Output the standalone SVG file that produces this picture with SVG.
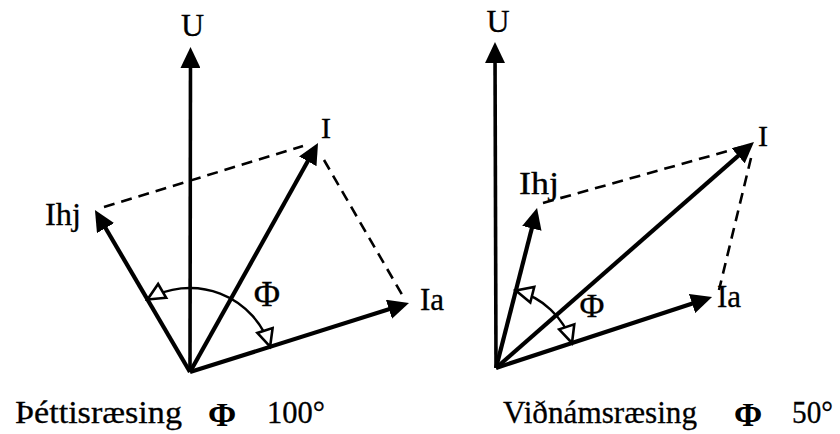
<svg xmlns="http://www.w3.org/2000/svg" width="840" height="434" viewBox="0 0 840 434">
<style>
.vec{stroke:#000;stroke-width:4.2;fill:none;stroke-linecap:butt}
.u{stroke:#000;stroke-width:3.6;fill:none}
.dash{stroke:#000;stroke-width:2.6;fill:none;stroke-dasharray:11 7}
.arc{stroke:#000;stroke-width:2.4;fill:none}
.lbl{font-family:"Liberation Serif","Times New Roman",serif;fill:#000;stroke:#000;stroke-width:0.3}
.phi{font-family:"Liberation Serif","Times New Roman",serif;fill:#000;font-weight:bold}
</style>
<defs>
<marker id="ah" markerUnits="userSpaceOnUse" markerWidth="21" markerHeight="20" viewBox="0 0 21 20" refX="14" refY="10" orient="auto"><path d="M0,0 L21,10 L0,20 z" fill="#000"/></marker>
<marker id="oh" markerUnits="userSpaceOnUse" markerWidth="22" markerHeight="20" viewBox="-2 -2 22 20" refX="17" refY="8" orient="auto-start-reverse"><path d="M0,0 L17,8 L0,16 z" fill="#fff" stroke="#000" stroke-width="2.6"/></marker>
</defs>
<rect width="840" height="434" fill="#fff"/>

<g id="connectors">
  <!-- left diagram -->
  <line class="u" x1="190" y1="372" x2="190.5" y2="54" marker-end="url(#ah)"/>
  <line class="vec" x1="190" y1="372" x2="314.6" y2="149.1" marker-end="url(#ah)"/>
  <line class="vec" x1="190" y1="372" x2="98.5" y2="216" marker-end="url(#ah)"/>
  <line class="vec" x1="190" y1="372" x2="402.3" y2="305.1" marker-end="url(#ah)"/>
  <line class="dash" x1="104" y1="207" x2="303" y2="146"/>
  <line class="dash" x1="324" y1="160" x2="404" y2="298"/>
  <path class="arc" d="M147.5,299.5 A84,84 0 0 1 270.1,346.7" marker-start="url(#oh)" marker-end="url(#oh)"/>
  <!-- right diagram -->
  <line class="u" x1="496" y1="368" x2="495" y2="49" marker-end="url(#ah)"/>
  <line class="vec" x1="496" y1="368" x2="748.7" y2="146.6" marker-end="url(#ah)"/>
  <line class="vec" x1="496" y1="368" x2="535.3" y2="214.8" marker-end="url(#ah)"/>
  <line class="vec" x1="496" y1="368" x2="705.4" y2="299.2" marker-end="url(#ah)"/>
  <line class="dash" x1="543" y1="203" x2="742" y2="147"/>
  <line class="dash" x1="751" y1="158" x2="719" y2="290"/>
  <path class="arc" d="M515.8,290.5 A80,80 0 0 1 572,343" marker-start="url(#oh)" marker-end="url(#oh)"/>
</g>

<g id="left-U"><text class="lbl" x="192.5" y="36" font-size="32" text-anchor="middle">U</text></g>
<g id="left-I"><text class="lbl" x="321" y="138" font-size="30">I</text></g>
<g id="left-Ihj"><text class="lbl" x="45" y="225" font-size="32" textLength="36" lengthAdjust="spacingAndGlyphs">Ihj</text></g>
<g id="left-Ia"><text class="lbl" x="420" y="310" font-size="31">Ia</text></g>
<g id="left-phi"><text class="lbl" x="267" y="306" font-size="36" text-anchor="middle">Φ</text></g>
<g id="left-caption">
  <text class="lbl" x="15" y="423" font-size="32" textLength="167" lengthAdjust="spacingAndGlyphs">Þéttisræsing</text>
  <text class="phi" x="222" y="426" font-size="34" text-anchor="middle">Φ</text>
  <text class="lbl" x="267" y="423" font-size="32" textLength="58" lengthAdjust="spacingAndGlyphs">100°</text>
</g>

<g id="right-U"><text class="lbl" x="498" y="32" font-size="32" text-anchor="middle">U</text></g>
<g id="right-I"><text class="lbl" x="758" y="146" font-size="30">I</text></g>
<g id="right-Ihj"><text class="lbl" x="519" y="194" font-size="31" textLength="40" lengthAdjust="spacingAndGlyphs">Ihj</text></g>
<g id="right-Ia"><text class="lbl" x="717" y="307" font-size="31">Ia</text></g>
<g id="right-phi"><text class="lbl" x="592" y="317" font-size="34" text-anchor="middle">Φ</text></g>
<g id="right-caption">
  <text class="lbl" x="503" y="423" font-size="32" textLength="194" lengthAdjust="spacingAndGlyphs">Viðnámsræsing</text>
  <text class="phi" x="748" y="426" font-size="34" text-anchor="middle">Φ</text>
  <text class="lbl" x="792" y="423" font-size="32" textLength="41" lengthAdjust="spacingAndGlyphs">50°</text>
</g>
</svg>
